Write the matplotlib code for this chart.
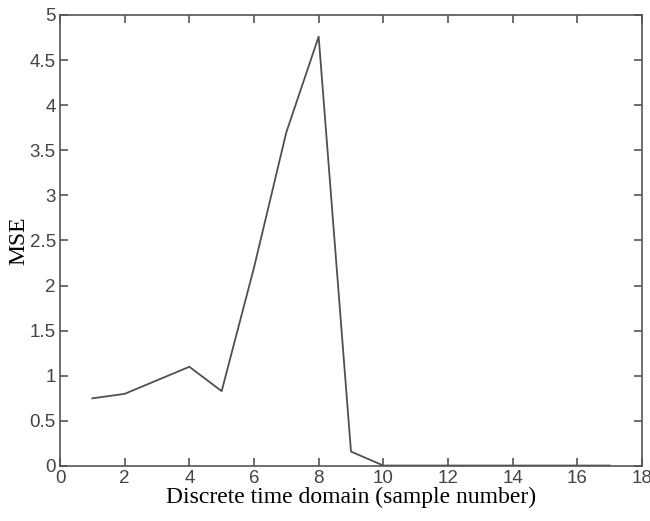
import matplotlib.pyplot as plt

# sample index and MSE
samples = list(range(1, 18))
mse = [0.75, 0.80, 0.95, 1.10, 0.83, 2.20, 3.70, 4.76, 0.16,
       0.005, 0.005, 0.005, 0.005, 0.005, 0.005, 0.005, 0.005]
x_ticks = list(range(0, 19, 2))
y_ticks = [0, 0.5, 1, 1.5, 2, 2.5, 3, 3.5, 4, 4.5, 5]

fig = plt.figure(figsize=(6.5, 5.21), dpi=100)
ax = fig.add_axes([60 / 650, 1 - 466 / 521, 582 / 650, 451 / 521])

ax.plot(samples, mse, color='#505050', linewidth=1.3)

ax.set_xlim(0, 18)
ax.set_ylim(0, 5)
ax.set_xticks(x_ticks)
ax.set_yticks(y_ticks)
ax.set_yticklabels([f"{v:g}" for v in y_ticks])

for side in ax.spines.values():
    side.set_color('#555555')
    side.set_linewidth(1.2)
ax.tick_params(direction='in', top=True, right=True, length=6, width=1.2,
               color='#555555', labelcolor='#444444', labelsize=13.5, pad=3)
for lbl in ax.get_xticklabels() + ax.get_yticklabels():
    lbl.set_family('Liberation Sans')

ax.set_xlabel("Discrete time domain (sample number)", family='Liberation Serif',
              fontsize=17, labelpad=0)
ax.set_ylabel("MSE", family='Liberation Serif', fontsize=17, labelpad=0)

plt.savefig('out.png', dpi=100)
